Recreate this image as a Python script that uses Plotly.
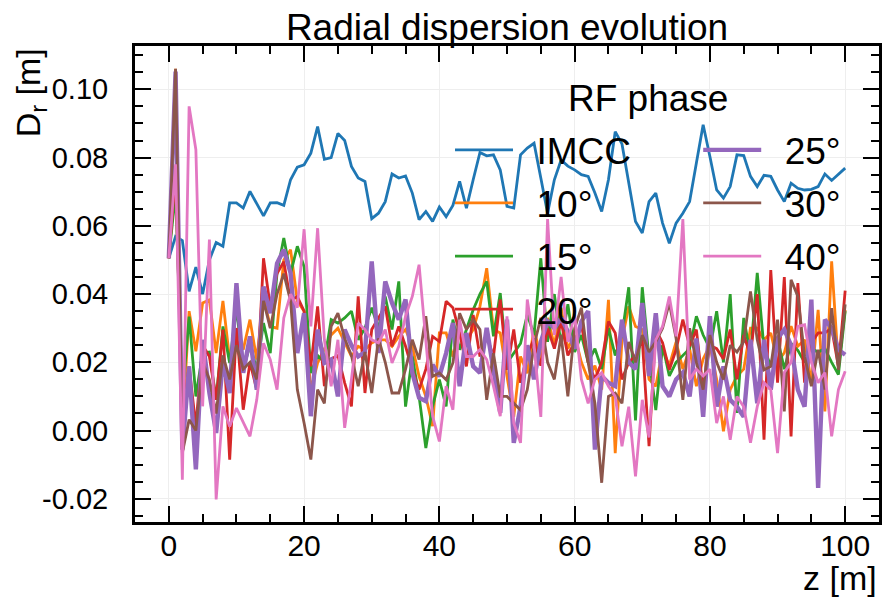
import plotly.graph_objects as go

z = list(range(101))

imcc = [0.0505, 0.0569, 0.0557, 0.0408, 0.0479, 0.0400, 0.0500, 0.0551, 0.0540, 0.0667,
        0.0667, 0.0652, 0.0701, 0.0667, 0.0629, 0.0667, 0.0668, 0.0660, 0.0735, 0.0772,
        0.0779, 0.0813, 0.0891, 0.0795, 0.0800, 0.0871, 0.0850, 0.0774, 0.0740, 0.0730,
        0.0621, 0.0637, 0.0671, 0.0752, 0.0740, 0.0746, 0.0696, 0.0618, 0.0642, 0.0613,
        0.0655, 0.0627, 0.0660, 0.0730, 0.0652, 0.0735, 0.0815, 0.0805, 0.0808, 0.0764,
        0.0657, 0.0652, 0.0808, 0.0828, 0.0842, 0.0740, 0.0637, 0.0735, 0.0793, 0.0775,
        0.0764, 0.0750, 0.0745, 0.0696, 0.0642, 0.0735, 0.0876, 0.0840, 0.0720, 0.0613,
        0.0579, 0.0671, 0.0696, 0.0608, 0.0549, 0.0608, 0.0637, 0.0671, 0.0784, 0.0896,
        0.0803, 0.0705, 0.0681, 0.0715, 0.0808, 0.0806, 0.0745, 0.0715, 0.0748, 0.0745,
        0.0705, 0.0671, 0.0725, 0.0710, 0.0705, 0.0707, 0.0715, 0.0752, 0.0733, 0.0752,
        0.0769]

ph10 = [0.0505, 0.1060, 0.0000, 0.0350, 0.0232, 0.0374, 0.0383, 0.0227, 0.0380, 0.0208,
        0.0300, 0.0237, 0.0325, 0.0208, 0.0393, 0.0305, 0.0300, 0.0500, 0.0530, 0.0380,
        0.0350, 0.0120, 0.0198, 0.0237, 0.0280, 0.0300, 0.0260, 0.0217, 0.0247, 0.0237,
        0.0257, 0.0266, 0.0266, 0.0247, 0.0276, 0.0296, 0.0247, 0.0159, 0.0100, 0.0013,
        0.0286, 0.0286, 0.0217, 0.0286, 0.0266, 0.0296, 0.0364, 0.0476, 0.0296, 0.0286,
        0.0159, 0.0040, 0.0217, 0.0168, 0.0300, 0.0210, 0.0330, 0.0250, 0.0360, 0.0240,
        0.0280, 0.0200, 0.0150, 0.0190, 0.0120, 0.0383, -0.0066, 0.0265, 0.0364, 0.0305,
        0.0296, 0.0150, 0.0130, 0.0237, 0.0190, 0.0260, 0.0180, 0.0240, 0.0130, 0.0210,
        0.0250, 0.0150, -0.0002, 0.0120, 0.0160, 0.0180, 0.0300, 0.0300, 0.0266, 0.0286,
        0.0200, 0.0228, 0.0306, 0.0247, 0.0266, 0.0140, 0.0354, 0.0056, 0.0496, 0.0188,
        0.0354]

ph15 = [0.0505, 0.0700, 0.0100, 0.0334, 0.0100, 0.0227, 0.0230, 0.0090, 0.0305, 0.0198,
        0.0360, 0.0180, 0.0250, 0.0180, 0.0315, 0.0227, 0.0462, 0.0564, 0.0460, 0.0540,
        0.0480, 0.0169, 0.0220, 0.0200, 0.0325, 0.0315, 0.0330, 0.0350, 0.0266, 0.0300,
        0.0360, 0.0300, 0.0393, 0.0296, 0.0437, 0.0070, 0.0217, 0.0100, -0.0051, 0.0071,
        0.0149, 0.0071, 0.0325, 0.0237, 0.0296, 0.0354, 0.0400, 0.0437, 0.0276, 0.0403,
        0.0198, 0.0227, 0.0255, 0.0340, 0.0280, 0.0505, 0.0260, 0.0400, 0.0250, 0.0370,
        0.0230, 0.0280, 0.0200, 0.0240, 0.0180, 0.0300, 0.0220, 0.0280, 0.0420, 0.0030,
        0.0420, 0.0210, 0.0060, 0.0250, 0.0160, 0.0200, 0.0220, 0.0240, 0.0335, 0.0280,
        0.0240, 0.0350, 0.0200, 0.0400, 0.0052, 0.0330, 0.0220, 0.0462, 0.0240, 0.0190,
        0.0270, 0.0180, 0.0255, 0.0235, 0.0200, 0.0240, 0.0230, 0.0240, 0.0200, 0.0164,
        0.0350]

ph20 = [0.0505, 0.0750, 0.0050, 0.0188, 0.0012, 0.0250, 0.0217, 0.0090, 0.0296, -0.0085,
        0.0300, 0.0061, 0.0200, 0.0120, 0.0505, 0.0364, 0.0460, 0.0495, 0.0380, 0.0393,
        0.0350, 0.0188, 0.0364, 0.0130, 0.0210, 0.0220, 0.0140, 0.0071, 0.0393, 0.0110,
        0.0296, 0.0330, 0.0364, 0.0247, 0.0305, 0.0247, 0.0179, 0.0120, 0.0180, 0.0276,
        0.0261, 0.0379, 0.0360, 0.0286, 0.0188, 0.0339, 0.0217, 0.0276, 0.0217, 0.0384,
        0.0178, 0.0296, 0.0140, 0.0220, 0.0270, 0.0190, 0.0300, 0.0240, 0.0320, 0.0220,
        0.0260, 0.0310, 0.0200, 0.0150, 0.0200, 0.0320, 0.0286, 0.0150, 0.0200, 0.0220,
        0.0266, -0.0046, 0.0296, 0.0257, 0.0178, 0.0237, 0.0325, 0.0247, 0.0296, 0.0120,
        0.0250, 0.0240, 0.0210, 0.0296, 0.0150, 0.0280, 0.0220, 0.0400, -0.0027, 0.0470,
        0.0140, 0.0450, -0.0017, 0.0432, 0.0140, 0.0257, 0.0286, 0.0286, 0.0300, 0.0188,
        0.0410]

ph25 = [0.0505, 0.1052, -0.0056, 0.0188, -0.0114, 0.0266, 0.0110, -0.0007, 0.0200, 0.0110,
        0.0432, 0.0169, 0.0276, 0.0120, 0.0422, 0.0344, 0.0490, 0.0530, 0.0462, 0.0227,
        0.0344, 0.0042, 0.0296, 0.0198, 0.0208, 0.0100, 0.0296, 0.0250, 0.0217, 0.0230,
        0.0496, 0.0227, 0.0437, 0.0374, 0.0325, 0.0384, 0.0169, 0.0096, 0.0086, 0.0193,
        0.0159, 0.0227, 0.0315, 0.0130, 0.0286, 0.0188, 0.0169, 0.0301, 0.0178, 0.0052,
        0.0325, -0.0036, 0.0070, 0.0250, 0.0150, 0.0260, 0.0320, 0.0300, 0.0330, 0.0290,
        0.0240, 0.0320, 0.0350, -0.0056, 0.0160, 0.0140, 0.0130, 0.0325, 0.0200, 0.0180,
        0.0374, 0.0160, 0.0344, 0.0130, 0.0100, 0.0150, 0.0170, 0.0100, 0.0270, 0.0040,
        0.0335, 0.0070, 0.0188, 0.0090, 0.0070, 0.0040, 0.0266, 0.0080, 0.0266, 0.0120,
        0.0270, 0.0296, 0.0250, 0.0120, 0.0070, 0.0384, -0.0168, 0.0325, 0.0300, 0.0237,
        0.0222]

ph30 = [0.0505, 0.1060, -0.0066, 0.0032, 0.0000, 0.0200, 0.0150, 0.0050, 0.0220, 0.0150,
        0.0250, 0.0180, 0.0200, 0.0150, 0.0380, 0.0300, 0.0400, 0.0460, 0.0380, 0.0120,
        0.0022, -0.0085, 0.0120, 0.0080, 0.0305, 0.0344, 0.0270, 0.0220, 0.0130, 0.0230,
        0.0110, 0.0270, 0.0200, 0.0110, 0.0110, 0.0180, 0.0266, 0.0208, 0.0335, 0.0159,
        0.0169, 0.0149, 0.0198, 0.0344, 0.0296, 0.0325, 0.0296, 0.0090, 0.0227, 0.0100,
        0.0100, 0.0080, 0.0060, 0.0120, 0.0250, 0.0330, 0.0200, 0.0150, 0.0280, 0.0100,
        0.0300, 0.0360, 0.0200, 0.0080, -0.0153, 0.0100, 0.0110, 0.0080, 0.0260, 0.0200,
        0.0280, 0.0230, 0.0260, 0.0300, 0.0374, 0.0270, 0.0090, 0.0300, 0.0200, 0.0120,
        0.0280, 0.0200, 0.0150, 0.0250, 0.0230, 0.0260, 0.0408, 0.0266, 0.0178, 0.0188,
        0.0325, 0.0056, 0.0442, 0.0393, 0.0217, 0.0130, 0.0237, 0.0120, 0.0359, 0.0178,
        0.0370]

ph40 = [0.0505, 0.0780, -0.0144, 0.0950, 0.0823, 0.0071, 0.0560, -0.0202, 0.0071, 0.0012,
        0.0066, 0.0022, -0.0017, 0.0090, 0.0256, 0.0208, 0.0120, 0.0330, 0.0400, 0.0360,
        0.0590, 0.0305, 0.0593, 0.0266, 0.0130, 0.0266, 0.0008, 0.0150, 0.0315, 0.0296,
        0.0266, 0.0257, 0.0296, 0.0198, 0.0247, 0.0335, 0.0393, 0.0486, 0.0257, 0.0042,
        -0.0032, 0.0130, 0.0061, 0.0325, 0.0217, 0.0217, 0.0237, 0.0208, 0.0130, 0.0042,
        0.0335, 0.0022, -0.0036, 0.0384, 0.0250, 0.0040, 0.0620, 0.0280, 0.0450, 0.0260,
        0.0340, 0.0150, 0.0080, 0.0150, 0.0170, 0.0130, 0.0100, -0.0046, 0.0070, -0.0134,
        0.0090, -0.0020, 0.0266, 0.0305, 0.0393, 0.0276, 0.0620, 0.0150, 0.0180, 0.0160,
        0.0180, 0.0022, 0.0100, -0.0027, 0.0100, 0.0070, -0.0036, 0.0070, 0.0140, 0.0120,
        -0.0066, 0.0170, 0.0200, 0.0305, 0.0310, 0.0200, 0.0140, 0.0170, -0.0017, 0.0120,
        0.0174]

names = ["IMCC", "10°", "15°", "20°", "25°", "30°", "40°"]
series = [imcc, ph10, ph15, ph20, ph25, ph30, ph40]
colors = ["#1f77b4", "#ff7f0e", "#2ca02c", "#d62728", "#9467bd", "#8c564b", "#e377c2"]
widths = [2.8, 2.8, 2.8, 2.8, 4.4, 2.8, 2.8]
legend_ids = ["legend", "legend", "legend", "legend", "legend2", "legend2", "legend2"]

FONT = "Liberation Sans, Arial, Helvetica, sans-serif"
GAP = "\u2002"  # spacing between legend line and label

fig = go.Figure()
for name, ys, c, w, lg in zip(names, series, colors, widths, legend_ids):
    fig.add_trace(go.Scatter(x=z, y=ys, mode="lines", name=GAP + name,
                             line=dict(color=c, width=w), legend=lg, legendgroup=name))

axis_common = dict(
    showline=True, linecolor="black", linewidth=3, mirror="allticks",
    ticks="inside", ticklen=16, tickwidth=2, tickcolor="black",
    showgrid=True, gridcolor="#eeeeee", gridwidth=1, zeroline=False,
    minor=dict(ticks="inside", ticklen=8, tickwidth=1.5, tickcolor="black", showgrid=False),
)

fig.update_xaxes(range=[-5, 105], tickmode="array", tickvals=[0, 20, 40, 60, 80, 100],
                 ticktext=["0", "20", "40", "60", "80", "100"],
                 tickfont=dict(family=FONT, size=30, color="black"),
                 minor_dtick=5, minor_tick0=0, ticklabelstandoff=-5, **axis_common)
fig.update_yaxes(range=[-0.0268, 0.1127], tickmode="array",
                 tickvals=[-0.02, 0.0, 0.02, 0.04, 0.06, 0.08, 0.10],
                 ticktext=["-0.02", "0.00", "0.02", "0.04", "0.06", "0.08", "0.10"],
                 tickfont=dict(family=FONT, size=29, color="black"),
                 minor_dtick=0.005, minor_tick0=0, ticklabelstandoff=18, **axis_common)

leg_style = dict(xanchor="left", yanchor="top", bgcolor="rgba(0,0,0,0)",
                 font=dict(family=FONT, size=37, color="black"), itemwidth=58,
                 tracegroupgap=2)

fig.update_layout(
    width=885, height=598,
    margin=dict(l=135, r=3, t=46, b=76),
    paper_bgcolor="white", plot_bgcolor="white",
    font=dict(family=FONT, color="black"),
    title=dict(text="Radial dispersion evolution", x=0.5, xref="paper", xanchor="center",
               y=1 - 27 / 598, yref="container", yanchor="middle",
               font=dict(family=FONT, size=37, color="black")),
    legend=dict(x=0.4234, y=0.846, **leg_style),
    legend2=dict(x=0.757, y=0.846, **leg_style),
    annotations=[
        dict(text="RF phase", x=0.69, y=0.89, xref="paper", yref="paper",
             xanchor="center", yanchor="middle", showarrow=False,
             font=dict(family=FONT, size=37, color="black")),
        dict(text="D<sub>r</sub> [m]", x=-0.140, y=1.0, xref="paper", yref="paper",
             xanchor="center", yanchor="top", textangle=-90, showarrow=False,
             font=dict(family=FONT, size=34, color="black")),
        dict(text="z [m]", x=1.0, y=-0.118, xref="paper", yref="paper",
             xanchor="right", yanchor="middle", showarrow=False,
             font=dict(family=FONT, size=34, color="black")),
    ],
)

fig.write_html("out.html")
